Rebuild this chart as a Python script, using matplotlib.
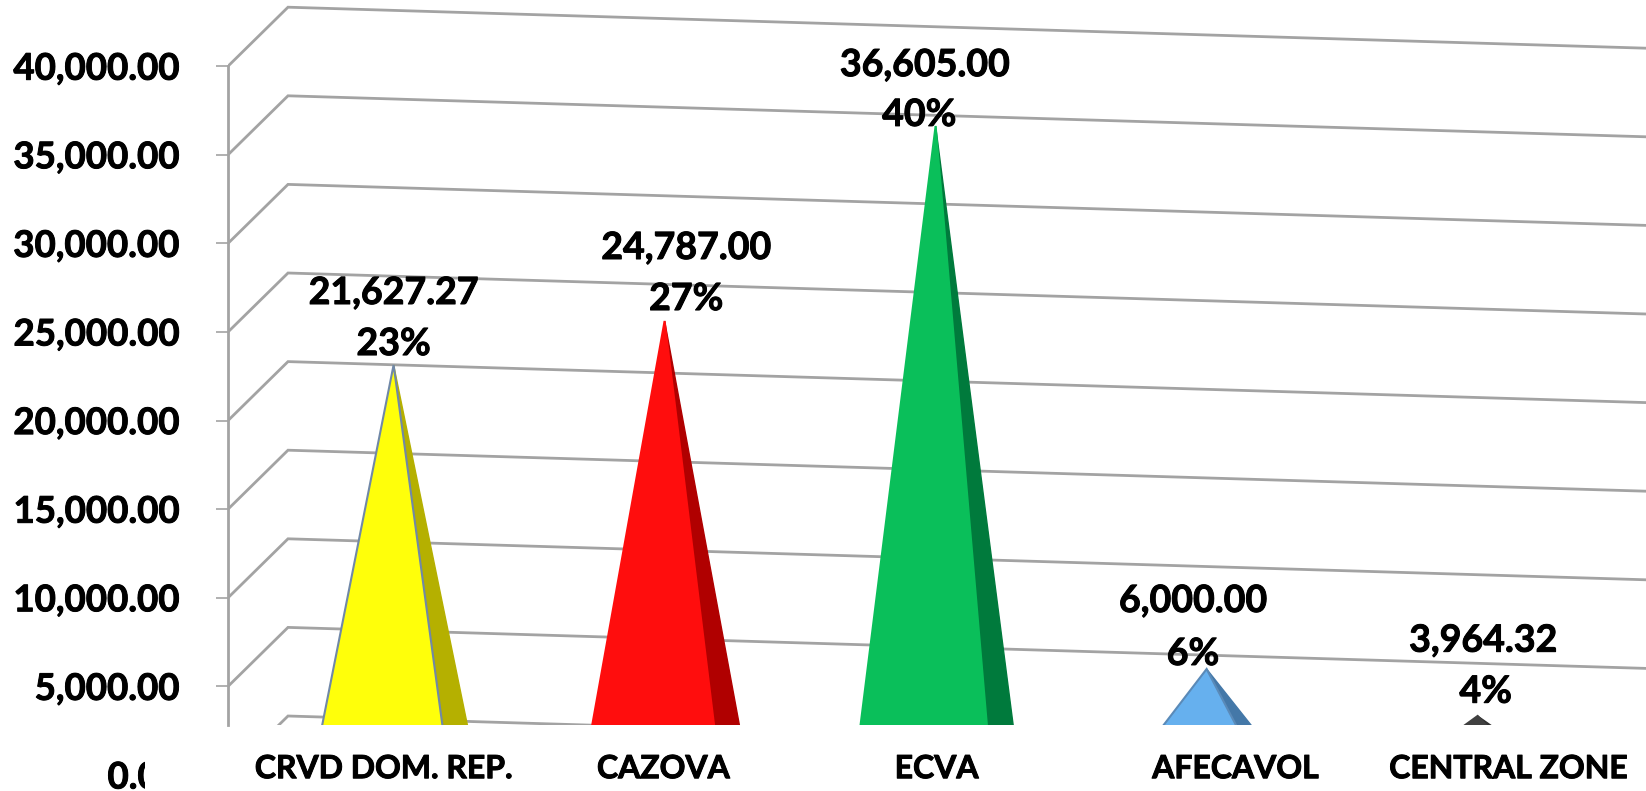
import matplotlib
matplotlib.use("Agg")
import matplotlib.pyplot as plt
import matplotlib.patheffects as pe
from matplotlib.patches import Polygon, Rectangle

plt.rcParams['font.family'] = ['Lato', 'DejaVu Sans']

# === Data ===
categories = ["CRVD DOM. REP.", "CAZOVA", "ECVA", "AFECAVOL", "CENTRAL ZONE"]
value_labels = ["21,627.27", "24,787.00", "36,605.00", "6,000.00", "3,964.32"]
pct_labels = ["23%", "27%", "40%", "6%", "4%"]
# cone tops as drawn in the picture (they sit a little off the labelled values)
cone_tops = [23140, 25620, 36625, 5980, 3330]
y_ticks = [5000, 10000, 15000, 20000, 25000, 30000, 35000, 40000]
grid_levels = [0] + y_ticks

# label anchors
category_label_x = [-0.035, 0.996, 2.004, 3.107, 4.115]
value_label_x = [0.0, 1.08, 1.96, 2.95, 4.02]
value_label_y = [27200, 29740, 40060, 9820, 7580]
pct_label_x = [0.0, 1.08, 1.94, 2.95, 4.03]
pct_label_y = [24320, 26860, 37250, 6830, 4700]

face_colors = ["#FFFF0A", "#FF0D0D", "#0ABF5A", "#66B0EE", "#404040"]
side_colors = ["#B5B000", "#B00000", "#007A3C", "#4478A8", "#303030"]
edge_colors = ["#7088A8", "#FF0D0D", "#0ABF5A", "#5A8AB8", "#404040"]

GRID = "#A3A3A3"
W, H = 1646, 791
FS = 27
TICK_FS = 26.4
heavy = [pe.withStroke(linewidth=0.7, foreground="black")]

fig = plt.figure(figsize=(W / 100, H / 100), dpi=100)
ax = fig.add_axes([228 / W, (H - 725) / H, 1 - 228 / W, 725 / H])

# scales: one category = 271 px, 5000 units = 88.6 px
ax.set_xlim((228 - 393.6) / 271, (W - 393.6) / 271)
ax.set_ylim((775 - 725) / 88.6 * 5000, 775 / 88.6 * 5000)
x_wall = ax.get_xlim()[0]
x_end = ax.get_xlim()[1]

# === 3D wall gridlines ===
depth_x = 60 / 271
depth_y = 59 / 88.6 * 5000
drop = 41 / 88.6 * 5000
for v in grid_levels:
    ax.plot([x_wall, x_wall + depth_x, x_end],
            [v, v + depth_y, v + depth_y - drop],
            color=GRID, lw=2, solid_joinstyle="miter", zorder=1)

# === Cones ===
left_w, right_w, ridge_w = 0.30, 0.31, 0.205
for i, top in enumerate(cone_tops):
    ax.add_patch(Polygon([(i, top), (i + ridge_w, 0), (i + right_w, 0)],
                         facecolor=side_colors[i], edgecolor=side_colors[i], lw=1, zorder=2))
    ax.add_patch(Polygon([(i, top), (i - left_w, 0), (i + ridge_w, 0)],
                         facecolor=face_colors[i], edgecolor=edge_colors[i], lw=1.5, zorder=3))

# === Data labels ===
for i in range(len(categories)):
    ax.text(value_label_x[i], value_label_y[i], value_labels[i], ha="center", va="center",
            fontsize=FS, fontweight="bold", color="black", clip_on=False, zorder=5,
            path_effects=heavy)
    ax.text(pct_label_x[i], pct_label_y[i], pct_labels[i], ha="center", va="center",
            fontsize=FS, fontweight="bold", color="black", clip_on=False, zorder=5,
            path_effects=heavy)

# === Axes ===
for s in ["top", "right", "bottom"]:
    ax.spines[s].set_visible(False)
ax.spines["left"].set_color(GRID)
ax.spines["left"].set_linewidth(2)
ax.spines["left"].set_bounds(ax.get_ylim()[0], 40000)
ax.patch.set_alpha(0)

ax.set_yticks(y_ticks)
ax.set_yticklabels([f"{v:,.2f}" for v in y_ticks], fontsize=TICK_FS, fontweight="bold",
                   path_effects=heavy)
ax.tick_params(axis="y", length=9, width=1.2, color=GRID, pad=26)

ax.set_xticks(category_label_x)
ax.set_xticklabels(categories, fontsize=23, fontweight="bold", path_effects=heavy)
ax.tick_params(axis="x", length=0, pad=21)

# the bottom tick label is cut off in the source image
zero = fig.text(180 / W, (H - 778) / H, "0.00", ha="right", va="center",
                fontsize=TICK_FS, fontweight="bold", path_effects=heavy)
zero.set_clip_path(Rectangle((0, 0), 145, H, transform=None))
zero.set_clip_on(True)

fig.savefig("out.png", dpi=100)
